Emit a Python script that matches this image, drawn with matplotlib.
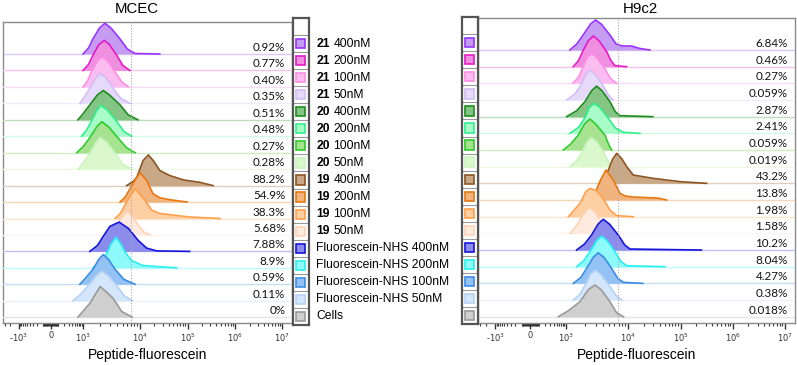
import numpy as np
import matplotlib
matplotlib.use('Agg')
import matplotlib.pyplot as plt
from matplotlib.patches import Rectangle
from matplotlib.colors import to_rgb

# Legend rows, top to bottom
label_bold = ['21', '21', '21', '21', '20', '20', '20', '20', '19', '19', '19', '19', '', '', '', '', '']
label_rest = ['400nM', '200nM', '100nM', '50nM', '400nM', '200nM', '100nM', '50nM',
              '400nM', '200nM', '100nM', '50nM',
              'Fluorescein-NHS 400nM', 'Fluorescein-NHS 200nM', 'Fluorescein-NHS 100nM',
              'Fluorescein-NHS 50nM', 'Cells']

edge_colors = ['#9933ff', '#e619c8', '#ff8ce6', '#d2bef5', '#1e8c1e', '#2ef08c', '#2ecc2e', '#c8f5c0',
               '#8c5523', '#e6780f', '#ffa04b', '#ffd2b4', '#1414dc', '#28f0f0', '#3c8ce6', '#b4d2f5',
               '#999999']
fill_colors = ['#c59cf2', '#ee8fe0', '#fbbcef', '#e6dafa', '#84c484', '#a8fcc8', '#a6e290', '#daf8cc',
               '#c9a887', '#f2b47e', '#fdcfa3', '#feeade', '#8c8cec', '#8efafa', '#94c2f4', '#d4e6fa',
               '#cfcfcf']

# percent of cells above the gate
mcec_pct = ['0.92%', '0.77%', '0.40%', '0.35%', '0.51%', '0.48%', '0.27%', '0.28%', '88.2%', '54.9%',
            '38.3%', '5.68%', '7.88%', '8.9%', '0.59%', '0.11%', '0%']
h9c2_pct = ['6.84%', '0.46%', '0.27%', '0.059%', '2.87%', '2.41%', '0.059%', '0.019%', '43.2%', '13.8%',
            '1.98%', '1.58%', '10.2%', '8.04%', '4.27%', '0.38%', '0.018%']

gate = 6900

# histogram outlines: fluorescence value, height of the mode-normalised curve
mcec_x = [
    [1000, 1250, 1490, 1950, 2430, 3100, 4470, 6000, 8200, 26000],
    [1000, 1250, 1490, 1900, 2370, 2900, 3930, 5000, 6640],
    [1000, 1200, 1400, 1800, 2140, 2700, 3660, 4800, 6270],
    [770, 1050, 1320, 1700, 2000, 2500, 3370, 4600, 6640],
    [660, 1000, 1320, 1800, 2270, 2900, 4470, 6200, 9200],
    [890, 1150, 1400, 1750, 2050, 2700, 3880, 5200, 7130],
    [600, 1000, 1320, 1750, 2140, 2800, 4100, 5800, 8200],
    [670, 1000, 1320, 1700, 2000, 2600, 3660, 5000, 7130],
    [5830, 7550, 8800, 11600, 15000, 19000, 26200, 42600, 81000, 178000, 340000],
    [4470, 5500, 6640, 8200, 10000, 13780, 18750, 26200, 42600, 97700],
    [3660, 4500, 5450, 6640, 8200, 12680, 17700, 26200, 110000, 478000],
    [2750, 3700, 4700, 5900, 7500, 9500, 12000, 16300],
    [1320, 1800, 2265, 2965, 4315, 6270, 9300, 13780, 22400, 110000],
    [1490, 2000, 2606, 3100, 3790, 4600, 5450, 7130, 11500, 58700],
    [770, 1100, 1500, 1900, 2265, 2800, 3660, 5200, 8200],
    [435, 800, 1230, 1700, 2140, 2800, 3930, 5300, 7300],
    [660, 1000, 1320, 1650, 2000, 2600, 3370, 4790, 7300],
]
mcec_h = [
    [0, 6, 15, 26, 30.7, 26, 15, 5, 0.5, 0],
    [0, 6, 15, 26, 30, 26, 15, 5, 0],
    [0, 6, 15, 26, 30, 26, 15, 5, 0],
    [0, 6, 15, 26, 30, 26, 15, 5, 0],
    [0, 6, 15, 25, 29.3, 25, 15, 5, 0],
    [0, 6, 15, 26, 31, 26, 15, 5, 0],
    [0, 6, 15, 26, 31, 26, 15, 5, 0],
    [0, 6, 16, 27, 31.7, 27, 16, 5, 0],
    [0, 4, 8.3, 25, 30.7, 25, 15, 10, 5.7, 3.3, 0],
    [0, 5, 13, 22, 29.4, 21.7, 8.3, 4.3, 2.3, 0],
    [0, 5, 13.3, 22, 30, 18.3, 8.3, 5, 1.5, 0],
    [0, 8, 17, 24, 18, 9, 3, 0],
    [0, 6, 15, 25, 29.3, 23, 11, 3.3, 0.5, 0],
    [0, 5, 14, 24, 30.7, 24, 16, 7.3, 2.3, 0],
    [0, 6, 15, 25, 29.7, 25, 15, 5, 0],
    [0, 6, 15, 25, 29.7, 25, 15, 5, 0],
    [0, 6, 14, 23, 30.6, 25, 19, 5.7, 0],
]

h9c2_x = [
    [1165, 1500, 1900, 2500, 3000, 3700, 5100, 6400, 8000, 11500, 16700, 26000],
    [1320, 1600, 1860, 2300, 2760, 3400, 4520, 5300, 6140, 9400],
    [1300, 1600, 1850, 2200, 2590, 3100, 4200, 5200, 6500],
    [1030, 1400, 1750, 2100, 2440, 2950, 3900, 4800, 5760],
    [1030, 1500, 2030, 2600, 3120, 3800, 5100, 6200, 7380, 29500],
    [1165, 1600, 2000, 2400, 2830, 3500, 4800, 6300, 8400, 16700],
    [830, 1200, 1590, 2000, 2440, 3000, 4240, 4900, 5430],
    [1165, 1500, 1850, 2200, 2590, 3100, 4000, 4800, 5430],
    [3520, 4790, 5600, 6530, 7800, 9440, 12500, 30000, 98000, 316000],
    [2440, 2930, 3600, 4400, 5760, 7380, 9000, 12500, 37000, 54000],
    [1100, 1690, 2100, 2440, 3100, 3990, 5100, 6530, 12500],
    [1165, 1500, 1850, 2350, 2900, 3700, 4700, 5760],
    [1490, 2000, 2590, 3300, 3990, 5000, 6920, 8800, 10800, 250000],
    [1490, 1950, 2440, 3100, 3760, 4600, 6140, 7700, 9440, 50000],
    [1320, 1750, 2160, 2750, 3310, 4100, 5430, 6800, 8400, 19000],
    [1320, 1700, 2050, 2500, 2930, 3600, 4900, 6300, 7850],
    [572, 1100, 1690, 2300, 2930, 3700, 5100, 6500, 8400],
]
h9c2_h = [
    [0, 6, 15, 26, 30, 26, 15, 6, 4, 4, 1.5, 0],
    [0, 6, 15, 26, 30.7, 26, 15, 6, 1, 0],
    [0, 6, 15, 26, 30, 26, 15, 5, 0],
    [0, 6, 15, 26, 30, 26, 15, 5, 0],
    [0, 6, 15, 26, 30.6, 26, 15, 5, 1, 0],
    [0, 6, 15, 26, 30, 26, 15, 5, 1, 0],
    [0, 6, 15, 26, 31, 26, 15, 5, 0],
    [0, 6, 15, 25, 29, 25, 15, 5, 0],
    [0, 13, 24, 30, 25, 16.7, 8.3, 5, 1.7, 0],
    [0, 6.7, 20, 30, 20, 6.7, 4, 3, 2, 0],
    [0, 13.3, 25, 28.3, 26, 18, 6.7, 1, 0],
    [0, 8, 18, 26, 22, 12, 4, 0],
    [0, 6, 15, 26, 30.7, 26, 15, 5, 1, 0],
    [0, 6, 15, 26, 30.7, 26, 15, 5, 1, 0],
    [0, 6, 15, 26, 30.6, 26, 15, 5, 1, 0],
    [0, 6, 15, 26, 30, 26, 15, 5, 0],
    [0, 6, 15, 27, 31.7, 27, 15, 4, 0],
]

# FlowJo-like biexponential axis, fitted to where the decades sit
tick_vals = [-1e3, 0, 1e3, 1e4, 1e5, 1e6, 1e7]
tick_labels = [r'-10$^3$', '0', r'10$^3$', r'10$^4$', r'10$^5$', r'10$^6$', r'10$^7$']
tick_frac = [0.054, 0.165, 0.277, 0.474, 0.639, 0.804, 0.967]

A = np.arcsinh(np.array(tick_vals) / 150.0)
F = np.array(tick_frac)
A_ext = np.concatenate([[A[0] - 10], A, [A[-1] + 10]])
F_ext = np.concatenate([[F[0] - 10 * (F[1] - F[0]) / (A[1] - A[0])], F,
                        [F[-1] + 10 * (F[-1] - F[-2]) / (A[-1] - A[-2])]])


def fwd(x):
    return np.interp(np.arcsinh(np.asarray(x, dtype=float) / 150.0), A_ext, F_ext)


def inv(f):
    return 150.0 * np.sinh(np.interp(np.asarray(f, dtype=float), F_ext, A_ext))


minor = []
for k in range(3, 7):
    minor += [m * 10 ** k for m in range(2, 10)]
minor += [m * 100 for m in range(1, 10)] + [-m * 100 for m in range(1, 10)]
minor += [m * 10 for m in range(1, 10)] + [-m * 10 for m in range(1, 10)]
minor += [-2000, -3000]

W, H = 797, 365
fig = plt.figure(figsize=(W / 100, H / 100), dpi=100)
SANS = 'Liberation Sans'


def pale(c, k=0.55):
    r, g, b = to_rgb(c)
    return (1 - k * (1 - r), 1 - k * (1 - g), 1 - k * (1 - b))


def px_axes(x0, y0, x1, y1):
    return fig.add_axes([x0 / W, 1 - y1 / H, (x1 - x0) / W, (y1 - y0) / H])


def draw_panel(ax, xs, hs, pct, top, first_base, step):
    ax.set_xscale('function', functions=(fwd, inv))
    ax.set_xlim(inv(0), inv(1))
    ax.set_ylim(323, top)
    n = len(xs)
    for i in range(n):
        base = first_base + i * step
        z = 2 + 3 * i
        ax.axhline(base, color=pale(fill_colors[i]), lw=1.0, zorder=z)
        x = np.array(xs[i], dtype=float)
        y = base - np.array(hs[i], dtype=float)
        ax.fill_between(x, base, y, color=fill_colors[i], lw=0, zorder=z + 1)
        ax.plot(x, y, color=edge_colors[i], lw=1.2, zorder=z + 2)
        ax.text(0.977, base - 6.5, pct[i], transform=ax.get_yaxis_transform(), ha='right',
                va='center', fontsize=8.4, family='Lato', color='#111111', zorder=100)
    ax.axvline(gate, color='#aaaaaa', ls=(0, (1, 1.5)), lw=0.8, zorder=80)
    ax.set_xticks(tick_vals)
    ax.set_xticklabels(tick_labels)
    ax.set_xticks(minor, minor=True)
    ax.set_yticks([])
    ax.tick_params(axis='x', which='major', length=4, width=1.0, color='#333333', pad=2,
                   labelsize=6, labelcolor='#333333')
    ax.tick_params(axis='x', which='minor', length=2, width=0.8, color='#333333')
    for s in ax.spines.values():
        s.set_color('#8a8a8a')
        s.set_linewidth(1.0)
    ax.set_xlabel('Peptide-fluorescein', fontsize=10, family=SANS, labelpad=3)


def draw_legend_column(ax, top, first_div, step):
    n = len(fill_colors)
    ax.set_xlim(0, 1)
    ax.set_ylim(first_div + n * step, top)
    ax.set_xticks([])
    ax.set_yticks([])
    for i in range(n + 1):
        ax.axhline(first_div + i * step, color='#9a9a9a', lw=0.8)
    for i in range(n):
        cy = first_div + (i + 0.5) * step
        ax.add_patch(Rectangle((0.2, cy - 4.6), 0.58, 9.2, facecolor=fill_colors[i],
                               edgecolor=edge_colors[i], lw=1.2))
    for s in ax.spines.values():
        s.set_color('#555555')
        s.set_linewidth(1.6)


ax1 = px_axes(3, 22, 292, 323)
draw_panel(ax1, mcec_x, mcec_h, mcec_pct, 22, 54, 16.45)
ax2 = px_axes(478, 18, 795, 323)
draw_panel(ax2, h9c2_x, h9c2_h, h9c2_pct, 18, 50, 16.67)

leg1 = px_axes(293, 18, 309, 325)
draw_legend_column(leg1, 18, 35, 17.06)
leg2 = px_axes(462, 17, 478, 324)
draw_legend_column(leg2, 17, 34.3, 17.08)

for i in range(len(label_rest)):
    y = 1 - (35 + (i + 0.5) * 17.06) / H
    if label_bold[i]:
        fig.text(316.5 / W, y, label_bold[i], fontsize=8.7, family=SANS, weight='bold', va='center')
        fig.text(333.5 / W, y, label_rest[i], fontsize=8.7, family=SANS, va='center')
    else:
        fig.text(316.5 / W, y, label_rest[i], fontsize=8.7, family=SANS, va='center')

fig.text(137 / W, 1 - 9 / H, 'MCEC', fontsize=10.8, family=SANS, ha='center', va='center')
fig.text(640 / W, 1 - 9 / H, 'H9c2', fontsize=10.8, family=SANS, ha='center', va='center')

fig.savefig('out.png', dpi=100)
